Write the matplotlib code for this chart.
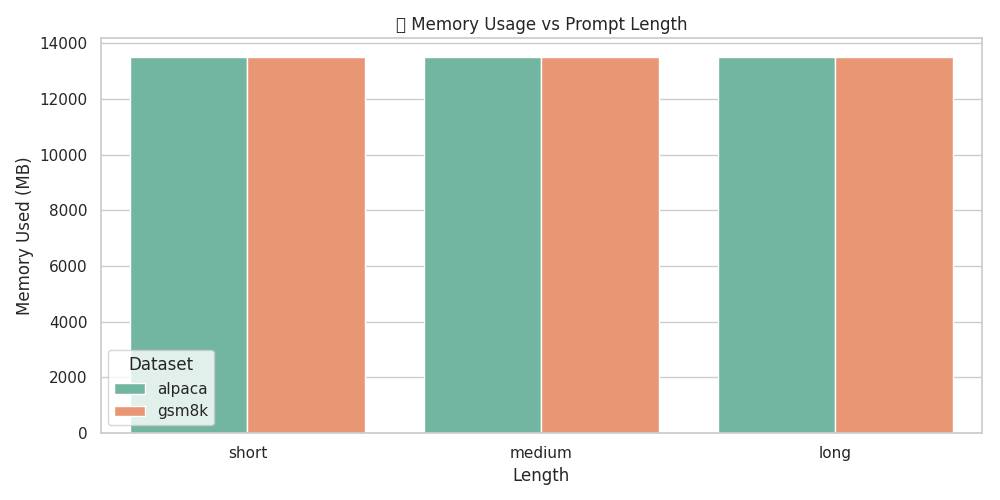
import pandas as pd
import seaborn as sns
import matplotlib
matplotlib.use("Agg")
import matplotlib.pyplot as plt

lengths = ["short", "medium", "long"]
datasets = ["alpaca", "gsm8k"]
memory_alpaca = [13510, 13510, 13510]
memory_gsm8k = [13510, 13510, 13510]

rows = []
for i, length in enumerate(lengths):
    rows.append({"Length": length, "Dataset": "alpaca", "Memory": memory_alpaca[i]})
    rows.append({"Length": length, "Dataset": "gsm8k", "Memory": memory_gsm8k[i]})
df = pd.DataFrame(rows)

sns.set_theme(style="whitegrid")
plt.figure(figsize=(10, 5))
sns.barplot(data=df, x="Length", y="Memory", hue="Dataset", palette="Set2")
plt.title("📊 Memory Usage vs Prompt Length")
plt.xlabel("Length")
plt.ylabel("Memory Used (MB)")
plt.legend(title="Dataset", loc="lower left")
plt.subplots_adjust(left=0.1005, right=0.982, top=0.924, bottom=0.134)
plt.savefig("out.png", dpi=100)
